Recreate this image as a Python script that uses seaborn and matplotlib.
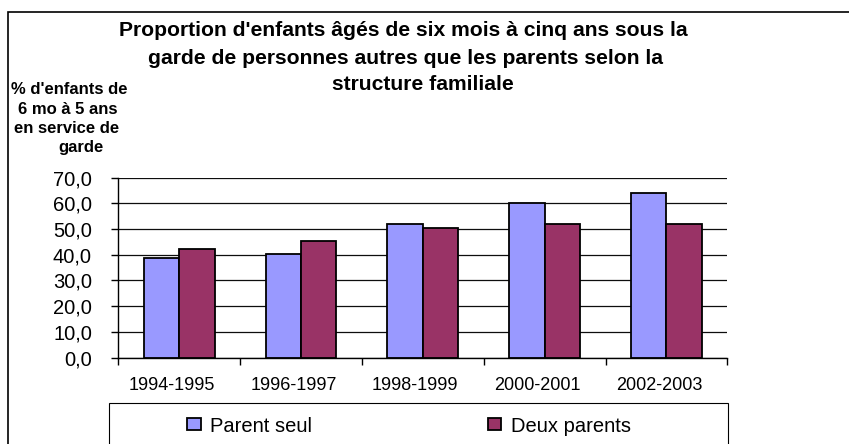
import matplotlib
matplotlib.use("Agg")
import numpy as np
import pandas as pd
import matplotlib.pyplot as plt
import matplotlib.transforms as mtransforms
from matplotlib.patches import Rectangle, Patch
import seaborn as sns

# --- data ---
periods = ["1994-1995", "1996-1997", "1998-1999", "2000-2001", "2002-2003"]
series = ["Parent seul", "Deux parents"]
parent_seul = [38.8, 40.1, 51.8, 60.0, 64.1]
deux_parents = [42.1, 45.4, 50.5, 51.8, 51.8]
yticks = [0, 10, 20, 30, 40, 50, 60, 70]

title_lines = [
    "Proportion d'enfants âgés de six mois à cinq ans sous la",
    "garde de personnes autres que les parents selon la",
    "structure familiale",
]
ylabel_lines = ["% d'enfants de", "6 mo à 5 ans", "en service de", "garde"]

colors = ["#9999FF", "#993366"]

df = pd.DataFrame({
    "periode": periods * 2,
    "serie": [series[0]] * len(periods) + [series[1]] * len(periods),
    "valeur": parent_seul + deux_parents,
})

sns.set_style("white")
plt.rcParams["font.family"] = ["Liberation Sans", "DejaVu Sans"]
plt.rcParams["text.color"] = "black"
plt.rcParams["xtick.color"] = "black"
plt.rcParams["ytick.color"] = "black"
plt.rcParams["axes.labelcolor"] = "black"

W, H = 849, 444
fig = plt.figure(figsize=(W / 100, H / 100), dpi=100)
ax = fig.add_axes([118.3 / W, 1 - 357.5 / H, 609 / W, 180 / H])

sns.barplot(data=df, x="periode", y="valeur", hue="serie", palette=colors,
            saturation=1, width=0.58, gap=0, errorbar=None,
            edgecolor="black", linewidth=1.3, ax=ax)
if ax.get_legend() is not None:
    ax.get_legend().remove()

ax.set_xlim(-0.5, len(periods) - 0.5)
ax.set_ylim(0, 70)
ax.set_xlabel("")
ax.set_ylabel("")

# y axis
ax.set_yticks(yticks)
ax.set_yticklabels([f"{v:.1f}".replace(".", ",") for v in yticks], fontsize=14.5)
ax.tick_params(axis="y", length=5, width=1, color="black", labelcolor="black",
               direction="out", pad=14, left=True)
ax.yaxis.grid(True, color="0.05", lw=0.9)
ax.set_axisbelow(True)

# x axis: labels at centers, tick marks at boundaries
ax.set_xticks(range(len(periods)))
ax.set_xticklabels(periods, fontsize=13)
ax.set_xticks(np.arange(-0.5, len(periods)), minor=True)
ax.tick_params(axis="x", which="major", length=0, pad=14, labelcolor="black")
ax.tick_params(axis="x", which="minor", length=5, width=1, color="black", direction="out", bottom=True)
shift = mtransforms.ScaledTranslation(-7.5 / 100, 0, fig.dpi_scale_trans)
for lbl in ax.get_xticklabels():
    lbl.set_transform(lbl.get_transform() + shift)

for s in ["top", "right"]:
    ax.spines[s].set_visible(False)
for s in ["left", "bottom"]:
    ax.spines[s].set_color("black")
    ax.spines[s].set_linewidth(1)

# title and y label
title_x = [403, 405, 422.5]
title_y = [36, 63.5, 90]
for line, x, y in zip(title_lines, title_x, title_y):
    fig.text(x / W, 1 - y / H, line, ha="center", va="baseline",
             fontsize=15.2, fontweight="bold", color="black")

ylab_x = [69, 67.5, 66.7, 81]
ylab_y = [94.3, 113.5, 132.8, 152]
for line, x, y in zip(ylabel_lines, ylab_x, ylab_y):
    fig.text(x / W, 1 - y / H, line, ha="center", va="baseline",
             fontsize=12, fontweight="bold", color="black")

# legend
handles = [Patch(facecolor=c, edgecolor="black", lw=1.3) for c in colors]
leg = fig.legend(handles, series, loc="center left", bbox_to_anchor=(187.3 / W, 1 - 426 / H),
                 ncol=2, frameon=False, fontsize=14.5, borderpad=0, borderaxespad=0,
                 handlelength=0.67, handleheight=0.53, handletextpad=0.46, columnspacing=8.73)
for t in leg.get_texts():
    t.set_color("black")

# frames
fig.add_artist(Rectangle((109 / W, -0.05), (728.3 - 109) / W, 1 - 403.3 / H + 0.05,
                         transform=fig.transFigure, fill=False, ec="black", lw=0.8))
fig.add_artist(Rectangle((8.3 / W, -0.05), 1.1, 1 - 11.7 / H + 0.05,
                         transform=fig.transFigure, fill=False, ec="black", lw=1.2,
                         clip_on=False))

fig.savefig("out.png", dpi=100)
